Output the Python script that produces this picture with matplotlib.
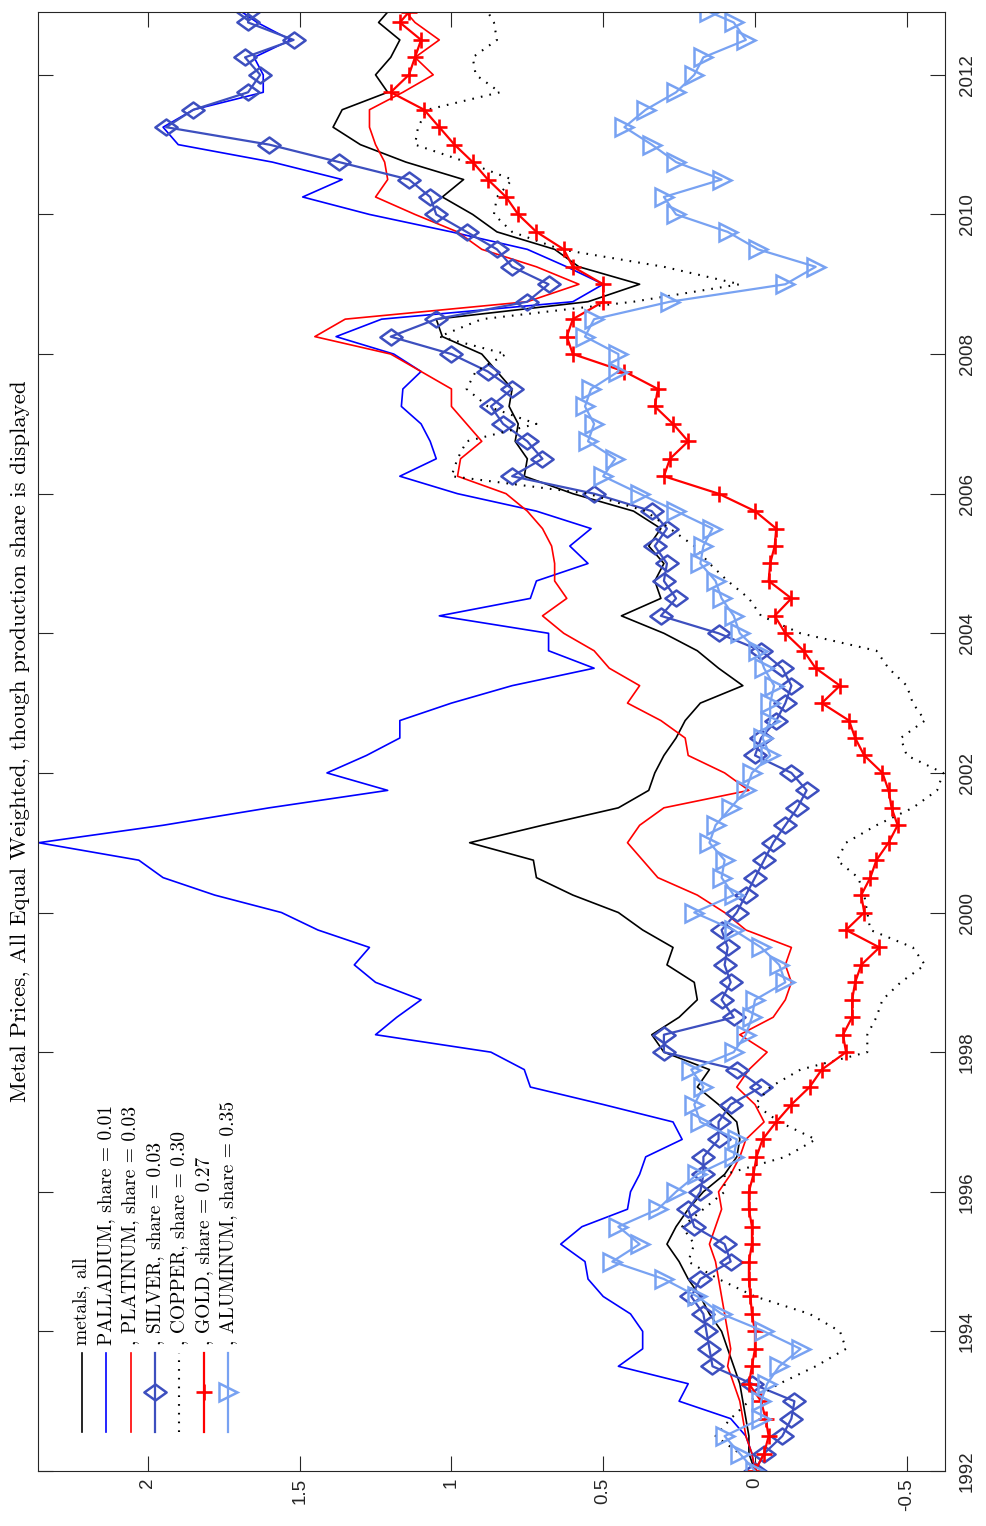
import numpy as np
import matplotlib
matplotlib.use("Agg")
import matplotlib.pyplot as plt
from matplotlib.path import Path

plt.rcParams["axes.unicode_minus"] = False

# quarterly samples; the last entry is the final month of the record
years = np.append(np.arange(1992.0, 2012.76, 0.25), 2012.9)

metals_all = [
    0.00, 0.02, 0.02, 0.03, 0.04, 0.05, 0.07, 0.09, 0.11, 0.15, 0.18, 0.22,
    0.25, 0.29, 0.26, 0.22, 0.17, 0.10, 0.06, 0.05, 0.06, 0.12, 0.19, 0.15,
    0.30, 0.34, 0.25, 0.19, 0.20, 0.29, 0.27, 0.37, 0.45, 0.60, 0.72, 0.73,
    0.94, 0.70, 0.45, 0.35, 0.33, 0.30, 0.26, 0.23, 0.18, 0.04, 0.12, 0.19,
    0.30, 0.44, 0.31, 0.33, 0.30, 0.35, 0.31, 0.40, 0.60, 0.76, 0.75, 0.79,
    0.78, 0.81, 0.80, 0.85, 0.90, 1.03, 1.05, 0.55, 0.38, 0.58, 0.66, 0.85,
    0.93, 1.03, 0.96, 1.15, 1.30, 1.39, 1.36, 1.21, 1.25, 1.20, 1.17, 1.24,
    1.21,
]
palladium = [
    0.00, 0.01, 0.03, 0.08, 0.25, 0.22, 0.45, 0.37, 0.37, 0.41, 0.50, 0.55,
    0.56, 0.64, 0.57, 0.42, 0.41, 0.38, 0.36, 0.24, 0.27, 0.50, 0.74, 0.76,
    0.87, 1.25, 1.18, 1.10, 1.25, 1.32, 1.27, 1.44, 1.56, 1.78, 1.95, 2.03,
    2.36, 1.95, 1.60, 1.21, 1.41, 1.28, 1.17, 1.17, 1.00, 0.80, 0.53, 0.68,
    0.68, 1.04, 0.74, 0.72, 0.55, 0.61, 0.54, 0.72, 0.98, 1.17, 1.05, 1.07,
    1.10, 1.165, 1.16, 1.10, 1.19, 1.38, 1.23, 0.60, 0.50, 0.62, 0.75, 1.00,
    1.27, 1.49, 1.36, 1.59, 1.90, 1.95, 1.85, 1.62, 1.62, 1.65, 1.53, 1.64,
    1.69,
]
platinum = [
    0.00, 0.01, 0.03, 0.04, 0.05, 0.07, 0.09, 0.08, 0.09, 0.10, 0.11, 0.12,
    0.13, 0.15, 0.13, 0.11, 0.12, 0.08, 0.05, 0.03, -0.03, 0.00, 0.06, 0.02,
    -0.04, 0.05, -0.06, -0.10, -0.12, -0.10, -0.12, 0.03, 0.10, 0.19, 0.32, 0.37,
    0.42, 0.38, 0.30, 0.02, 0.10, 0.22, 0.23, 0.31, 0.42, 0.38, 0.48, 0.53,
    0.63, 0.70, 0.62, 0.66, 0.66, 0.67, 0.70, 0.75, 0.82, 0.98, 0.97, 0.90,
    0.95, 1.00, 1.00, 1.10, 1.20, 1.45, 1.35, 0.75, 0.58, 0.72, 0.90, 0.98,
    1.12, 1.25, 1.21, 1.22, 1.25, 1.27, 1.27, 1.16, 1.06, 1.12, 1.04, 1.12,
    1.15,
]
silver = [
    0.00, -0.03, -0.09, -0.12, -0.13, 0.01, 0.14, 0.15, 0.16, 0.17, 0.21, 0.18,
    0.08, 0.10, 0.20, 0.22, 0.18, 0.17, 0.17, 0.12, 0.12, 0.08, -0.02, 0.06,
    0.30, 0.30, 0.07, 0.11, 0.08, 0.10, 0.09, 0.11, 0.06, 0.03, 0.00, -0.03,
    -0.06, -0.10, -0.14, -0.17, -0.12, 0.00, -0.02, -0.07, -0.10, -0.12, -0.09, -0.02,
    0.12, 0.31, 0.26, 0.30, 0.29, 0.33, 0.29, 0.34, 0.53, 0.80, 0.70, 0.75,
    0.83, 0.87, 0.80, 0.88, 1.00, 1.20, 1.05, 0.75, 0.68, 0.80, 0.85, 0.95,
    1.05, 1.07, 1.14, 1.37, 1.60, 1.94, 1.85, 1.67, 1.63, 1.68, 1.52, 1.67,
    1.67,
]
copper = [
    0.00, 0.05, 0.13, 0.08, 0.02, -0.08, -0.20, -0.30, -0.28, -0.18, 0.00, 0.12,
    0.22, 0.20, 0.24, 0.17, 0.10, 0.10, -0.10, -0.20, -0.08, 0.00, -0.05, -0.15,
    -0.37, -0.37, -0.40, -0.42, -0.48, -0.56, -0.52, -0.38, -0.37, -0.36, -0.34, -0.27,
    -0.30, -0.40, -0.52, -0.60, -0.62, -0.50, -0.48, -0.56, -0.52, -0.50, -0.44, -0.40,
    -0.15, -0.02, 0.02, 0.09, 0.15, 0.20, 0.28, 0.36, 0.55, 1.00, 0.98, 0.95,
    0.72, 0.88, 0.95, 0.92, 0.82, 1.04, 0.90, 0.40, 0.05, 0.30, 0.64, 0.80,
    0.86, 0.85, 0.80, 0.95, 1.12, 1.11, 1.08, 0.84, 0.92, 0.93, 0.85, 0.86,
    0.88,
]
gold = [
    0.00, -0.03, -0.045, -0.035, -0.02, 0.02, 0.01, 0.00, 0.00, 0.01, 0.015, 0.02,
    0.02, 0.01, 0.01, 0.02, 0.02, 0.005, -0.005, -0.025, -0.07, -0.12, -0.18, -0.22,
    -0.30, -0.29, -0.32, -0.32, -0.33, -0.35, -0.41, -0.30, -0.36, -0.35, -0.38, -0.40,
    -0.44, -0.47, -0.45, -0.44, -0.42, -0.36, -0.33, -0.31, -0.22, -0.28, -0.20, -0.16,
    -0.10, -0.065, -0.12, -0.045, -0.05, -0.065, -0.07, 0.00, 0.12, 0.30, 0.28, 0.22,
    0.27, 0.33, 0.32, 0.43, 0.60, 0.62, 0.60, 0.50, 0.50, 0.60, 0.63, 0.72,
    0.78, 0.82, 0.88, 0.93, 0.99, 1.04, 1.09, 1.20, 1.14, 1.12, 1.10, 1.17,
    1.14,
]
aluminum = [
    0.00, 0.05, 0.10, -0.02, -0.02, -0.04, -0.08, -0.15, -0.03, 0.11, 0.19, 0.30,
    0.47, 0.38, 0.45, 0.32, 0.26, 0.19, 0.07, 0.06, 0.18, 0.20, 0.17, 0.21,
    0.07, 0.03, 0.01, 0.00, -0.10, -0.08, -0.02, 0.07, 0.20, 0.07, 0.11, 0.10,
    0.15, 0.13, 0.08, 0.03, 0.01, -0.05, -0.025, -0.05, -0.05, -0.063, -0.03, -0.01,
    0.05, 0.07, 0.11, 0.13, 0.18, 0.17, 0.14, 0.26, 0.38, 0.50, 0.46, 0.55,
    0.53, 0.56, 0.54, 0.45, 0.45, 0.56, 0.53, 0.28, -0.10, -0.20, -0.01, 0.09,
    0.26, 0.30, 0.11, 0.26, 0.34, 0.43, 0.36, 0.26, 0.20, 0.17, 0.03, 0.07,
    0.15,
]

labels = [
    "metals, all",
    "PALLADIUM, share = 0.01",
    ", PLATINUM, share = 0.03",
    ", SILVER, share = 0.03",
    ", COPPER, share = 0.30",
    ", GOLD, share = 0.27",
    ", ALUMINUM, share = 0.35",
]
value_ticks = [-0.5, 0, 0.5, 1, 1.5, 2]
value_ticklabels = ["-0.5", "0", "0.5", "1", "1.5", "2"]
year_ticks = list(range(1992, 2013, 2))

# wide, flat diamond (the plot is turned on its side)
diamond = Path([(-1, 0), (0, 0.72), (1, 0), (0, -0.72), (-1, 0)], closed=True)

styles = [
    dict(color="black", lw=1.2),
    dict(color="#0000ff", lw=1.2),
    dict(color="#ff0000", lw=1.2),
    dict(color="#3d4fbf", lw=1.6, marker=diamond, ms=16, mfc="none", mew=1.8),
    dict(color="black", lw=1.5, ls=(0, (0.8, 3.4))),
    dict(color="#ff0000", lw=1.6, marker="+", ms=12, mew=1.9),
    dict(color="#78a2f2", lw=1.6, marker=">", ms=13, mfc="none", mew=1.8),
]
data = [metals_all, palladium, platinum, silver, copper, gold, aluminum]

fig = plt.figure(figsize=(9.87, 15.26), dpi=100)
ax = fig.add_axes([38 / 987, 1 - 1471 / 1526, 907 / 987, 1459 / 1526])

# -----------------------------------------------------------------------------
# 1. Series: value runs along x (reversed), time runs up the page
# -----------------------------------------------------------------------------
for values, style in zip(data, styles):
    ax.plot(values, years, **style)

ax.set_xlim(2.362, -0.626)
ax.set_ylim(1992.0, 2012.9)

# -----------------------------------------------------------------------------
# 2. Axes, ticks and rotated tick labels
# -----------------------------------------------------------------------------
tick_font = dict(family="Liberation Sans", size=13.5, color="#262626")
ax.set_xticks(value_ticks)
ax.set_xticklabels(value_ticklabels, rotation=90, ha="center", va="top", **tick_font)
ax.set_yticks(year_ticks)
ax.set_yticklabels([str(y) for y in year_ticks], rotation=90, ha="left", va="center", **tick_font)
ax.yaxis.tick_right()
ax.tick_params(direction="in", length=10.5, width=0.8, color="#262626",
               top=True, bottom=True, left=True, right=True)
ax.tick_params(axis="x", pad=5)
ax.tick_params(axis="y", pad=10)
for spine in ax.spines.values():
    spine.set_color("#262626")
    spine.set_linewidth(0.8)

# -----------------------------------------------------------------------------
# 3. Legend entries drawn by hand so they can run sideways
# -----------------------------------------------------------------------------
x0, dx = 0.0482, 0.0269
for i, (label, style) in enumerate(zip(labels, styles)):
    x = x0 + i * dx
    ax.plot([x, x, x], [0.0267, 0.054, 0.0809], transform=ax.transAxes,
            clip_on=False, markevery=[1], **style)
    ax.text(x, 0.0864, label, transform=ax.transAxes, rotation=90,
            rotation_mode="anchor", ha="left", va="center",
            family="cmr10", fontsize=14)

fig.text(20 / 987, 1 - 741 / 1526,
         "Metal Prices, All Equal Weighted, though production share is displayed",
         rotation=90, ha="center", va="center", family="cmr10", fontsize=16.5)

fig.savefig("out.png", dpi=100)
